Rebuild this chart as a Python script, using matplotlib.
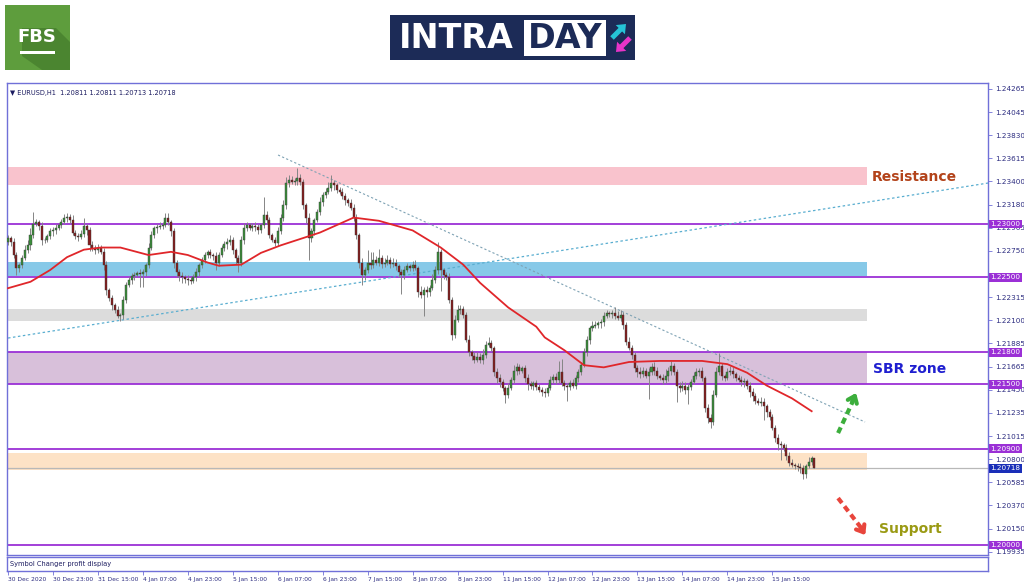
import numpy as np
import matplotlib.pyplot as plt
from matplotlib.patches import Rectangle, Polygon, FancyArrow
from matplotlib.transforms import blended_transform_factory

# EURUSD H1 closes (one per bar)
closes = [
    1.2287, 1.2283, 1.2271, 1.2259, 1.2262, 1.2268, 1.2276, 1.2280, 1.2290, 1.2300, 1.2302, 1.2298,
    1.2285, 1.2285, 1.2289, 1.2293, 1.2294, 1.2296, 1.2299, 1.2302, 1.2306, 1.2307, 1.2304, 1.2292,
    1.2289, 1.2288, 1.2291, 1.2298, 1.2294, 1.2280, 1.2278, 1.2276, 1.2278, 1.2274, 1.2262, 1.2238,
    1.2231, 1.2224, 1.2220, 1.2214, 1.2215, 1.2229, 1.2243, 1.2248, 1.2251, 1.2252, 1.2254, 1.2253,
    1.2255, 1.2262, 1.2278, 1.2290, 1.2296, 1.2297, 1.2298, 1.2299, 1.2306, 1.2302, 1.2293, 1.2264,
    1.2255, 1.2251, 1.2250, 1.2249, 1.2248, 1.2247, 1.2250, 1.2255, 1.2262, 1.2266, 1.2271, 1.2274,
    1.2271, 1.2270, 1.2264, 1.2271, 1.2278, 1.2281, 1.2283, 1.2285, 1.2276, 1.2268, 1.2264, 1.2285,
    1.2296, 1.2299, 1.2296, 1.2298, 1.2297, 1.2294, 1.2299, 1.2308, 1.2304, 1.2290, 1.2285, 1.2282,
    1.2293, 1.2306, 1.2318, 1.2338, 1.2341, 1.2339, 1.2340, 1.2343, 1.2339, 1.2318, 1.2306, 1.2287,
    1.2293, 1.2304, 1.2311, 1.2321, 1.2327, 1.2330, 1.2334, 1.2338, 1.2336, 1.2332, 1.2330, 1.2326,
    1.2322, 1.2320, 1.2315, 1.2306, 1.2290, 1.2264, 1.2252, 1.2257, 1.2264, 1.2262, 1.2266, 1.2264,
    1.2268, 1.2263, 1.2264, 1.2266, 1.2263, 1.2264, 1.2261, 1.2255, 1.2252, 1.2257, 1.2261, 1.2259,
    1.2262, 1.2259, 1.2236, 1.2234, 1.2238, 1.2236, 1.2240, 1.2248, 1.2257, 1.2274, 1.2257, 1.2252,
    1.2250, 1.2229, 1.2196, 1.2210, 1.2220, 1.2221, 1.2215, 1.2192, 1.2180, 1.2177, 1.2173, 1.2176,
    1.2173, 1.2178, 1.2187, 1.2189, 1.2184, 1.2162, 1.2156, 1.2152, 1.2147, 1.2140, 1.2147, 1.2154,
    1.2163, 1.2166, 1.2163, 1.2165, 1.2156, 1.2150, 1.2149, 1.2151, 1.2148, 1.2145, 1.2143, 1.2142,
    1.2147, 1.2154, 1.2157, 1.2154, 1.2162, 1.2151, 1.2149, 1.2148, 1.2151, 1.2149, 1.2156, 1.2162,
    1.2168, 1.2180, 1.2192, 1.2203, 1.2205, 1.2206, 1.2207, 1.2208, 1.2214, 1.2217, 1.2216, 1.2217,
    1.2214, 1.2212, 1.2215, 1.2206, 1.2190, 1.2184, 1.2178, 1.2165, 1.2162, 1.2160, 1.2163, 1.2158,
    1.2162, 1.2166, 1.2163, 1.2158, 1.2156, 1.2154, 1.2158, 1.2163, 1.2167, 1.2162, 1.2149, 1.2147,
    1.2149, 1.2145, 1.2148, 1.2152, 1.2158, 1.2162, 1.2163, 1.2156, 1.2128, 1.2119, 1.2115, 1.2140,
    1.2162, 1.2167, 1.2158, 1.2156, 1.2162, 1.2163, 1.2160, 1.2156, 1.2154, 1.2152, 1.2153, 1.2149,
    1.2143, 1.2139, 1.2135, 1.2133, 1.2134, 1.2130, 1.2124, 1.2120, 1.2109, 1.2100, 1.2094, 1.2093,
    1.2091, 1.2083, 1.2077, 1.2075, 1.2074, 1.2073, 1.2072, 1.2066, 1.2074, 1.2078, 1.2081, 1.20718,
]
first_open = 1.2283

# wick lengths above / below the body, in pips
upper_wick = [
    3, 2, 4, 3, 2, 3, 4, 5, 6, 11, 3, 2, 4, 3, 2, 3, 3, 4, 2, 3, 3, 3, 2, 4,
    2, 3, 3, 8, 2, 3, 4, 2, 3, 2, 4, 3, 2, 3, 2, 3, 2, 4, 3, 2, 3, 3, 2, 4,
    3, 2, 4, 3, 2, 3, 4, 3, 4, 4, 2, 3, 2, 3, 4, 2, 3, 2, 3, 4, 2, 3, 3, 2,
    3, 2, 4, 3, 2, 3, 4, 5, 3, 2, 3, 4, 5, 3, 2, 3, 4, 3, 2, 17, 4, 3, 2, 3,
    4, 3, 4, 6, 5, 4, 3, 9, 4, 3, 2, 4, 3, 2, 3, 4, 3, 4, 5, 8, 3, 2, 3, 4,
    3, 2, 3, 4, 3, 2, 4, 3, 12, 10, 8, 4, 9, 3, 4, 5, 3, 4, 3, 2, 3, 4, 3, 2,
    3, 4, 2, 6, 3, 4, 3, 5, 4, 9, 3, 2, 3, 4, 3, 5, 4, 3, 2, 3, 4, 2, 3, 4,
    3, 5, 4, 5, 3, 2, 3, 4, 3, 2, 4, 3, 5, 4, 3, 2, 3, 4, 3, 2, 3, 2, 3, 4,
    3, 4, 3, 4, 10, 12, 3, 2, 3, 4, 3, 2, 3, 4, 3, 2, 4, 3, 2, 3, 4, 3, 2, 3,
    5, 5, 5, 3, 2, 4, 3, 2, 3, 4, 3, 2, 3, 4, 5, 3, 2, 4, 6, 3, 5, 3, 2, 3,
    4, 3, 2, 3, 4, 3, 2, 3, 2, 4, 3, 5, 4, 12, 3, 2, 3, 4, 3, 2, 3, 4, 3, 2,
    3, 4, 3, 2, 4, 3, 2, 3, 2, 3, 4, 3, 2, 3, 4, 3, 2, 3, 4, 3, 2, 4, 2, 0,
]
lower_wick = [
    3, 4, 3, 7, 4, 3, 2, 3, 4, 3, 2, 4, 5, 3, 2, 3, 4, 3, 2, 3, 2, 4, 3, 2,
    3, 4, 2, 3, 4, 5, 3, 4, 3, 2, 5, 4, 3, 4, 3, 2, 5, 4, 3, 2, 4, 3, 2, 12,
    12, 4, 3, 2, 3, 4, 2, 3, 2, 3, 4, 5, 5, 4, 5, 4, 5, 3, 2, 3, 4, 3, 2, 3,
    3, 4, 7, 3, 2, 3, 4, 3, 4, 5, 9, 3, 4, 3, 2, 3, 4, 3, 2, 3, 4, 3, 2, 3,
    3, 2, 3, 4, 3, 2, 3, 4, 3, 4, 5, 21, 4, 3, 2, 3, 4, 3, 2, 3, 4, 3, 2, 3,
    4, 3, 2, 3, 4, 5, 9, 4, 3, 4, 3, 2, 3, 4, 3, 2, 4, 3, 4, 5, 17, 3, 2, 3,
    3, 2, 4, 3, 20, 4, 3, 2, 3, 4, 20, 3, 2, 3, 4, 3, 2, 4, 3, 2, 3, 4, 3, 2,
    3, 4, 3, 2, 3, 4, 5, 4, 3, 7, 3, 2, 3, 4, 3, 2, 4, 5, 3, 4, 3, 2, 4, 4,
    3, 2, 3, 4, 3, 2, 4, 13, 3, 2, 3, 4, 3, 2, 3, 4, 3, 2, 3, 4, 3, 2, 3, 4,
    3, 2, 3, 4, 3, 2, 4, 3, 5, 4, 3, 2, 22, 3, 4, 3, 2, 4, 3, 5, 4, 3, 15, 4,
    3, 4, 13, 3, 2, 3, 4, 3, 4, 5, 6, 3, 2, 3, 4, 3, 2, 3, 4, 3, 2, 3, 4, 3,
    5, 4, 3, 2, 3, 13, 4, 3, 2, 4, 5, 14, 3, 4, 3, 2, 3, 4, 5, 4, 3, 2, 3, 0,
]

# red moving average
ma_bars = [0, 8, 15, 21, 27, 33, 40, 50, 58, 64, 71, 75, 83, 90, 97, 104, 111, 117, 123,
           132, 144, 154, 162, 168, 178, 188, 191, 198, 205, 212, 221, 232, 247, 256,
           263, 270, 279, 286]
ma_values = [1.2240, 1.2246, 1.2257, 1.2269, 1.2276, 1.2278, 1.2278, 1.2271, 1.2274, 1.2271,
             1.2264, 1.2261, 1.2262, 1.2273, 1.2280, 1.2286, 1.2292, 1.2299, 1.2306, 1.2303,
             1.2294, 1.2278, 1.2262, 1.2245, 1.2222, 1.2204, 1.2194, 1.2182, 1.2168, 1.2166,
             1.2171, 1.2172, 1.2172, 1.2169, 1.2161, 1.2149, 1.2137, 1.2125]

tick_bars = list(range(0, 288, 16))
tick_labels = ["30 Dec 2020", "30 Dec 23:00", "31 Dec 15:00", "4 Jan 07:00", "4 Jan 23:00",
               "5 Jan 15:00", "6 Jan 07:00", "6 Jan 23:00", "7 Jan 15:00", "8 Jan 07:00",
               "8 Jan 23:00", "11 Jan 15:00", "12 Jan 07:00", "12 Jan 23:00", "13 Jan 15:00",
               "14 Jan 07:00", "14 Jan 23:00", "15 Jan 15:00"]
price_ticks = [1.24265, 1.24045, 1.23830, 1.23615, 1.23400, 1.23180, 1.22965, 1.22750,
               1.22535, 1.22315, 1.22100, 1.21885, 1.21665, 1.21450, 1.21235, 1.21015,
               1.20800, 1.20585, 1.20370, 1.20150, 1.19935]
# tick labels that sit under a level box on the reference
hidden_ticks = [1.22535]

levels = [1.23000, 1.22500, 1.21800, 1.21500, 1.20900, 1.20000]
zone_low = [1.23365, 1.22514, 1.22093, 1.21500, 1.20697]
zone_high = [1.23533, 1.22645, 1.22205, 1.21800, 1.20855]
zone_colors = ['#f9c3cd', '#87c9e8', '#dcdcdc', '#d8c0da', '#fde2c6']
last_price = 1.20718

frame = '#7070d8'
navy = '#2c2c80'
purple = '#9b30d6'

fig = plt.figure(figsize=(10.24, 5.87), dpi=100)
fig.patch.set_facecolor('white')

# ---- logos (pixel coords overlay) ----
lg = fig.add_axes([0, 0, 1, 1], zorder=-1)
lg.set_xlim(0, 1024)
lg.set_ylim(587, 0)
lg.axis('off')
lg.add_patch(Rectangle((5, 5), 65, 65, fc='#5e9d3d', ec='none'))
lg.add_patch(Polygon([(22, 28), (56, 28), (70, 42), (70, 70), (42, 70), (22, 56)],
                     fc='#4b8530', ec='none'))
lg.text(37, 37, 'FBS', color='white', fontsize=13, fontweight='bold', ha='center', va='center')
lg.add_patch(Rectangle((20, 51), 35, 3, fc='white', ec='none'))

lg.add_patch(Rectangle((390, 15), 245, 45, fc='#1c2b57', ec='none'))
lg.text(399, 38.5, 'INTRA', color='white', fontsize=24, fontweight='bold', ha='left', va='center')
lg.add_patch(Rectangle((524, 20), 82, 36, fc='white', ec='none'))
lg.text(565, 38.5, 'DAY', color='#1c2b57', fontsize=24, fontweight='bold', ha='center', va='center')
lg.add_patch(FancyArrow(612, 38, 14, -14, width=5, head_width=13, head_length=8,
                        length_includes_head=True, fc='#25c3d6', ec='none'))
lg.add_patch(FancyArrow(630, 38, -14, 14, width=5, head_width=13, head_length=8,
                        length_includes_head=True, fc='#e834c8', ec='none'))

# ---- main price panel ----
ax = fig.add_axes([0.00684, 0.05451, 0.9580, 0.80409])
ax.set_xlim(-0.36, 348.75)
ax.set_ylim(1.19906, 1.24318)
ax.set_facecolor('white')

band_end = 305.7
for lo_, hi_, col in zip(zone_low, zone_high, zone_colors):
    ax.fill_between([-0.36, band_end], lo_, hi_, color=col, lw=0, zorder=1)

for lvl in levels:
    ax.axhline(lvl, color=purple, lw=1.3, zorder=2)
ax.axhline(last_price, color='#b8b8b8', lw=0.9, zorder=2)

# trend lines
ax.plot([96.1, 305.0], [1.23645, 1.21149], color='#7ea2b4', lw=0.8, ls=(0, (2, 2)), zorder=2)
ax.plot([0.0, 348.8], [1.21934, 1.23383], color='#5aaed0', lw=0.9, ls=(0, (2, 2)), zorder=2)

# candles
c = np.array(closes)
o = np.concatenate([[first_open], c[:-1]])
hi = np.maximum(o, c) + np.array(upper_wick) * 1e-4
lo = np.minimum(o, c) - np.array(lower_wick) * 1e-4
x = np.arange(len(c))
up = c >= o
body = np.maximum(np.abs(c - o), 0.00003)
ax.vlines(x, lo, hi, color='#858585', lw=0.7, zorder=3)
ax.bar(x[up], body[up], bottom=o[up], width=0.72, color='#3b8f3b',
       edgecolor='#3a3a3a', lw=0.3, zorder=4)
ax.bar(x[~up], body[~up], bottom=c[~up], width=0.72, color='#861c1c',
       edgecolor='#3a3a3a', lw=0.3, zorder=4)

ax.plot(ma_bars, ma_values, color='#e0262a', lw=1.3, zorder=5)

# arrows
ax.plot([295.4, 300.6], [1.21046, 1.21340], color='#3cae3c', lw=3, ls=(0, (1.5, 1)), zorder=6)
ax.annotate('', xy=(302.2, 1.21445), xytext=(300.0, 1.21310),
            arrowprops=dict(arrowstyle='->,head_length=0.45,head_width=0.35',
                            color='#3cae3c', lw=3), zorder=6)
ax.plot([295.4, 303.6], [1.20438, 1.20160], color='#e8453c', lw=3, ls=(0, (1.5, 1)), zorder=6)
ax.annotate('', xy=(305.6, 1.20070), xytext=(303.0, 1.20180),
            arrowprops=dict(arrowstyle='->,head_length=0.45,head_width=0.35',
                            color='#e8453c', lw=3), zorder=6)

ax.text(307.5, 1.23439, 'Resistance', color='#b3431a', fontsize=10, fontweight='bold',
        va='center', ha='left', zorder=7)
ax.text(307.8, 1.21645, 'SBR zone', color='#1f1fd0', fontsize=10, fontweight='bold',
        va='center', ha='left', zorder=7)
ax.text(310.0, 1.20150, 'Support', color='#9a9a14', fontsize=10, fontweight='bold',
        va='center', ha='left', zorder=7)

ax.text(0.003, 0.986, '\u25bc EURUSD,H1  1.20811 1.20811 1.20713 1.20718',
        transform=ax.transAxes, fontsize=4.8, color='#1c1c60', va='top', ha='left')

ax.set_xticks([])
ax.yaxis.tick_right()
ax.set_yticks(price_ticks)
ax.set_yticklabels(['' if v in hidden_ticks else '%.5f' % v for v in price_ticks])
ax.tick_params(axis='y', labelsize=5.2, colors=navy, length=3, width=0.6, pad=2)
ax.tick_params(axis='y', which='both', color=frame)
for s in ax.spines.values():
    s.set_color(frame)
    s.set_linewidth(1.0)

tr = blended_transform_factory(ax.transAxes, ax.transData)
for lvl in levels:
    ax.text(1.0025, lvl, '%.5f' % lvl, transform=tr, fontsize=5.2, color='white',
            va='center', ha='left', zorder=8, clip_on=False,
            bbox=dict(boxstyle='square,pad=0.2', fc=purple, ec='none'))
ax.text(1.0025, last_price, '%.5f' % last_price, transform=tr, fontsize=5.2, color='white',
        va='center', ha='left', zorder=8, clip_on=False,
        bbox=dict(boxstyle='square,pad=0.2', fc='#1a2fb8', ec='none'))

# ---- sub panel ----
sub = fig.add_axes([0.00684, 0.02726, 0.9580, 0.02385])
sub.set_xlim(-0.36, 348.75)
sub.set_ylim(0, 1)
sub.set_yticks([])
sub.set_xticks(tick_bars)
sub.set_xticklabels(tick_labels, ha='left')
sub.tick_params(axis='x', labelsize=4.3, colors=navy, length=3, width=0.6, pad=1.5)
sub.tick_params(axis='x', color=frame)
for s in sub.spines.values():
    s.set_color(frame)
    s.set_linewidth(1.0)
sub.text(0.003, 0.5, 'Symbol Changer profit display', transform=sub.transAxes,
         fontsize=4.8, color='#1c1c60', va='center', ha='left')

fig.savefig('out.png', dpi=100)
